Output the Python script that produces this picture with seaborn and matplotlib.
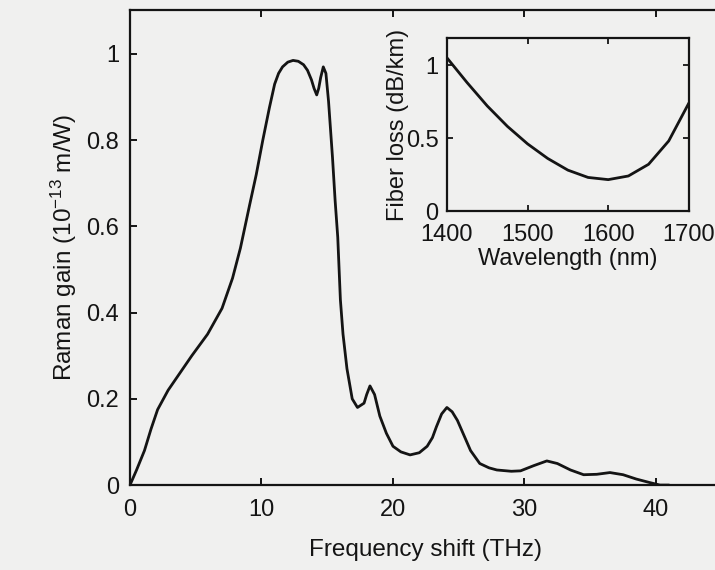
import matplotlib
matplotlib.use("Agg")
import matplotlib.pyplot as plt
import seaborn as sns
import pandas as pd

# Raman gain spectrum
freq_thz = [0, 0.5, 1.1, 1.6, 2.1, 2.9, 3.8, 4.7, 5.9, 7.0, 7.8, 8.4, 9.1, 9.6, 10.1, 10.6,
            11.0, 11.3, 11.6, 12.0, 12.4, 12.8, 13.2, 13.5, 13.8, 14.0, 14.2, 14.35, 14.5,
            14.7, 14.9, 15.1, 15.4, 15.6, 15.8, 16.0, 16.2, 16.5, 16.9, 17.3, 17.8, 18.0,
            18.25, 18.6, 19.0, 19.5, 20.0, 20.6, 21.3, 22.0, 22.6, 23.0, 23.3, 23.7, 24.1,
            24.5, 24.9, 25.4, 25.9, 26.6, 27.3, 27.9, 29.0, 29.7, 30.7, 31.7, 32.5, 33.5,
            34.5, 35.5, 36.5, 37.5, 38.5, 39.5, 40.3, 41.0]
raman_gain = [0, 0.035, 0.08, 0.13, 0.175, 0.22, 0.26, 0.30, 0.35, 0.41, 0.48, 0.55, 0.65,
              0.72, 0.80, 0.875, 0.93, 0.955, 0.97, 0.981, 0.985, 0.983, 0.975, 0.962, 0.94,
              0.92, 0.905, 0.92, 0.945, 0.97, 0.955, 0.89, 0.76, 0.66, 0.575, 0.43, 0.35,
              0.27, 0.20, 0.18, 0.19, 0.21, 0.23, 0.21, 0.16, 0.12, 0.09, 0.077, 0.07,
              0.075, 0.09, 0.11, 0.135, 0.165, 0.18, 0.17, 0.15, 0.115, 0.08, 0.05, 0.04,
              0.035, 0.032, 0.033, 0.045, 0.056, 0.05, 0.035, 0.024, 0.025, 0.029, 0.024,
              0.014, 0.006, 0.0, 0.0]

# Fiber loss (inset)
wavelength_nm = [1400, 1425, 1450, 1475, 1500, 1525, 1550, 1575, 1600, 1625, 1650, 1675, 1700]
fiber_loss = [1.05, 0.88, 0.72, 0.58, 0.46, 0.36, 0.28, 0.23, 0.215, 0.24, 0.32, 0.48, 0.74]

main_xticks = [0, 10, 20, 30, 40]
main_yticks = [0, 0.2, 0.4, 0.6, 0.8, 1]
main_yticklabels = ["0", "0.2", "0.4", "0.6", "0.8", "1"]
inset_xticks = [1400, 1500, 1600, 1700]
inset_yticks = [0, 0.5, 1]
inset_yticklabels = ["0", "0.5", "1"]

sns.set_theme(style="ticks")
plt.rcParams["font.family"] = ["Liberation Sans", "DejaVu Sans"]
plt.rcParams["mathtext.fontset"] = "custom"
plt.rcParams["mathtext.rm"] = "Liberation Sans"
plt.rcParams["mathtext.it"] = "Liberation Sans:italic"

ink = "#141414"
bg = "#f0f0ef"
fig = plt.figure(figsize=(7.15, 5.70), dpi=100, facecolor=bg)

ax = fig.add_axes([0.1818, 0.149, 0.8276, 0.8335], facecolor=bg)
df = pd.DataFrame({"f": freq_thz, "g": raman_gain})
sns.lineplot(data=df, x="f", y="g", ax=ax, color=ink, linewidth=2.0)
ax.set_xlim(0, 45)
ax.set_ylim(0, 1.102)
ax.set_xticks(main_xticks)
ax.set_yticks(main_yticks)
ax.set_yticklabels(main_yticklabels)
ax.set_xlabel("Frequency shift (THz)", fontsize=17.5, color=ink, labelpad=13)
ax.set_ylabel("Raman gain (10$^{-13}$ m/W)", fontsize=17.5, color=ink, labelpad=5)
ax.tick_params(axis="both", direction="in", length=5, width=1.4, labelsize=17, colors=ink,
               top=True, right=True)
ax.tick_params(axis="x", pad=10)
ax.tick_params(axis="y", pad=8)
for s in ax.spines.values():
    s.set_linewidth(1.6)
    s.set_color(ink)

ins = fig.add_axes([0.625, 0.6298, 0.3385, 0.3035], facecolor=bg)
di = pd.DataFrame({"w": wavelength_nm, "l": fiber_loss})
sns.lineplot(data=di, x="w", y="l", ax=ins, color=ink, linewidth=2.0)
ins.set_xlim(1400, 1700)
ins.set_ylim(0, 1.185)
ins.set_xticks(inset_xticks)
ins.set_yticks(inset_yticks)
ins.set_yticklabels(inset_yticklabels)
ins.set_xlabel("Wavelength (nm)", fontsize=17, color=ink, labelpad=2)
ins.set_ylabel("Fiber loss (dB/km)", fontsize=17, color=ink, labelpad=-2)
ins.tick_params(axis="both", direction="in", length=4, width=1.3, labelsize=17, colors=ink,
                top=True, right=True)
ins.tick_params(axis="x", pad=9)
ins.tick_params(axis="y", pad=6)
for s in ins.spines.values():
    s.set_linewidth(1.6)
    s.set_color(ink)

fig.savefig("out.png", dpi=100, facecolor=bg)
